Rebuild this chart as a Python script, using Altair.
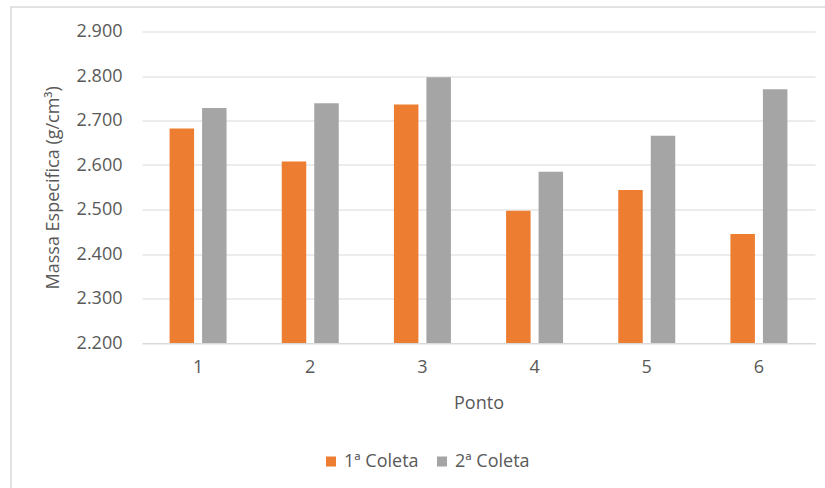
import altair as alt
import pandas as pd

# Measurements per sampling point, two collections
pontos = ["1", "2", "3", "4", "5", "6"]
coleta_1 = [2.682, 2.608, 2.736, 2.497, 2.544, 2.445]
coleta_2 = [2.728, 2.739, 2.797, 2.585, 2.666, 2.770]
series = ["1ª Coleta", "2ª Coleta"]
colors = ["#ED7D31", "#A5A5A5"]
y_ticks = [2.2, 2.3, 2.4, 2.5, 2.6, 2.7, 2.8, 2.9]

rows = []
for p, a, b in zip(pontos, coleta_1, coleta_2):
    rows.append({"Ponto": p, "Coleta": series[0], "Valor": a})
    rows.append({"Ponto": p, "Coleta": series[1], "Valor": b})
df = pd.DataFrame(rows)

FONT = "Open Sans"
TXT = "#595959"
GRID = "#D9D9D9"

bars = alt.Chart(df).mark_bar(clip=True).encode(
    x=alt.X(
        "Ponto:N",
        sort=pontos,
        scale=alt.Scale(paddingInner=0.492, paddingOuter=0.246),
        axis=alt.Axis(
            title="Ponto", labelAngle=0, ticks=False, domain=True,
            domainColor=GRID, labelPadding=15, titlePadding=18,
        ),
    ),
    xOffset=alt.XOffset(
        "Coleta:N", sort=series,
        scale=alt.Scale(paddingInner=0.246, paddingOuter=0),
    ),
    y=alt.Y(
        "Valor:Q",
        scale=alt.Scale(domain=[2.2, 2.9], zero=False, nice=False),
        axis=alt.Axis(
            title="Massa Especifica (g/cm³)", values=y_ticks, format=".3f",
            ticks=False, domain=False, gridColor=GRID, gridWidth=1.2,
            labelPadding=20, titlePadding=14,
        ),
    ),
    color=alt.Color(
        "Coleta:N", sort=series,
        scale=alt.Scale(domain=series, range=colors),
        legend=alt.Legend(
            title=None, orient="none", direction="horizontal",
            legendX=180, legendY=421, symbolType="square", symbolSize=100,
            symbolStrokeWidth=0, labelOffset=4, columnPadding=14,
            labelFontSize=18, labelFont=FONT, labelColor=TXT,
        ),
    ),
)

# outer frame around the whole chart area
frame = alt.Chart(pd.DataFrame({"f": [0]})).mark_rect(
    fill=None, stroke=GRID, strokeWidth=1.5, clip=False
).encode(
    x=alt.value(-131), x2=alt.value(700),
    y=alt.value(-24.5), y2=alt.value(480),
)

chart = alt.layer(frame, bars).properties(
    width=673, height=311.5,
    autosize=alt.AutoSizeParams(type="none"),
    padding={"left": 142, "top": 31.5, "right": 10, "bottom": 145},
    background="white",
).configure_view(stroke=None).configure_axis(
    labelFont=FONT, titleFont=FONT, labelFontSize=18, titleFontSize=18,
    labelColor=TXT, titleColor=TXT, titleFontWeight="normal",
)

chart.save("out.html", embed_options={"renderer": "svg", "actions": False})
